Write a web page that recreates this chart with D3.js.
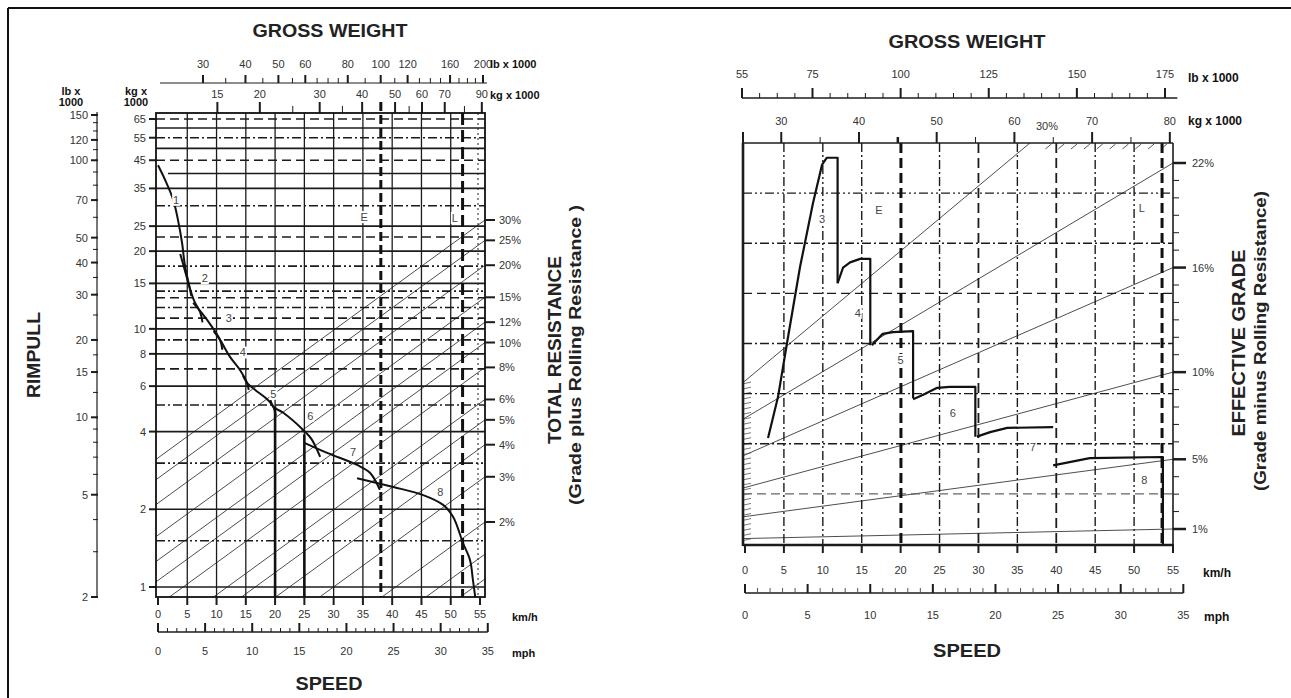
<!DOCTYPE html>
<meta charset="utf-8">
<style>
body { margin: 0; background: #fff; }
svg { display: block; font-family: "Liberation Sans", Arial, sans-serif; }
</style>
<body>
<svg id="chart" width="1291" height="698"></svg>
<script src="https://cdn.jsdelivr.net/npm/d3@7"></script>
<script>

// ---------------- left panel data (rimpull chart) ----------------
var lbWeightTicks = [30, 40, 50, 60, 80, 100, 120, 160, 200];
var lbWeightMinor = [35, 45, 55, 65, 70, 75, 90, 110, 130, 140, 150, 170, 180, 190];
var kgWeightTicks = [15, 20, 30, 40, 50, 60, 70, 90];
var kgWeightMinor = [25, 35, 55, 80];
var rimpullLbTicks = [150, 120, 100, 70, 50, 40, 30, 20, 15, 10, 5, 2];
var rimpullLbMinor = [140, 130, 110, 90, 80, 60, 45, 35, 25, 17.5, 12.5, 9, 8, 7, 6, 4, 3];
var rimpullKgTicks = [65, 55, 45, 35, 25, 20, 15, 10, 8, 6, 4, 2, 1];
var resistTicks = [30, 25, 20, 15, 12, 10, 8, 6, 5, 4, 3, 2];
var resistLines = [30, 25, 20, 15, 12, 10, 8, 6, 5, 4, 3, 2, 1.5, 1.2];
var solidLevels = [60, 50, 40, 35, 25, 20, 15, 10, 8, 6, 4, 2, 1];
var dashLevels = [65, 45, 22.7, 13.2, 11, 7];
var dashDotLevels = [55, 30, 12.1, 9.06, 5.07];
var dashDotDotLevels = [17.5, 14, 3.02, 1.51];
var kmhTicks = [0, 5, 10, 15, 20, 25, 30, 35, 40, 45, 50, 55];
var mphTicks = [0, 5, 10, 15, 20, 25, 30, 35];
var emptyKg = 45.4, loadedKg = 79;

// gear curves: [km/h, rimpull kg x 1000]
var leftGears = [
  [[0, 43], [1.2, 37.8], [2.6, 31.6], [3.4, 26.5], [4.1, 21.6], [4.6, 17.6], [5.3, 14.8], [5.7, 13.4]],
  [[3.8, 19.5], [4.6, 16.8], [5.2, 15], [6.2, 12.8], [7.2, 11.6], [7.6, 10.6]],
  [[6.0, 12.6], [7.5, 11.5], [9.2, 10.2], [10.6, 9.06], [11.0, 8.3]],
  [[9.5, 9.8], [10.6, 9.06], [12.3, 7.79], [14.0, 6.93], [15.2, 6.18], [15.5, 5.8]],
  [[14.5, 6.6], [15.2, 6.18], [16.6, 5.8], [18.6, 5.35], [19.7, 4.99], [20.1, 4.6]],
  [[19.2, 5.3], [19.7, 4.99], [21.4, 4.73], [24.8, 4.06], [26.2, 3.75], [27.7, 3.19]],
  [[25.1, 3.61], [29, 3.3], [34.0, 2.97], [36.2, 2.77], [37.9, 2.38]],
  [[34.0, 2.64], [40.2, 2.44], [45.3, 2.27], [48.7, 2.08], [50.4, 1.87], [52.1, 1.48], [53.3, 1.27], [53.8, 1.06], [54.2, 0.91]]
];
var leftGearNames = ["1", "2", "3", "4", "5", "6", "7", "8", "E", "L"];
var leftGearLabelAt = [[3.1, 31.6], [8.0, 15.7], [12.1, 11.0], [14.5, 8.1], [19.7, 5.6], [26.0, 4.6], [33.3, 3.33], [48.2, 2.33], [35.2, 27.1], [50.7, 26.9]];
var leftDrops = [[20, 5.0], [25, 3.9]];

// ---------------- right panel data (retarder chart) ----------------
var rLbTicks = [55, 75, 100, 125, 150, 175];
var rKgTicks = [30, 40, 50, 60, 70, 80];
var rKgMinor = [35, 45, 55, 65, 75];
var gradeTicks = [22, 16, 10, 5, 1];
var gradeAtRight = [30, 22, 16, 10, 5, 1];
var gradeAtLeft = [9.4, 7.3, 5.2, 3.35, 1.7, 0.45];
var rVertDashDot = [5, 15, 25, 35, 45];
var rVertDashDotDot = [10, 50];
var rVertDash = [30, 40];
var rowsDash = [1, 5];
var rowsDashDot = [2, 3, 4, 6];
var rowsDashDotDot = [7];

// gear curves: [km/h, effective grade %]
var rightGears = [
  [[2.96, 6.22], [4.24, 8.57], [5.4, 11.67], [7.07, 16.03], [8.74, 19.7], [9.9, 21.9], [10.5, 22.3], [11.9, 22.3], [11.9, 15.1]],
  [[11.9, 15.1], [12.6, 16.0], [13.5, 16.3], [14.8, 16.5], [16.1, 16.5], [16.1, 11.55]],
  [[16.3, 11.55], [17.7, 12.2], [19.0, 12.3], [21.6, 12.35], [21.6, 8.5]],
  [[21.6, 8.45], [22.9, 8.7], [24.7, 9.1], [26.3, 9.15], [29.6, 9.15], [29.6, 6.3]],
  [[29.8, 6.3], [31.5, 6.56], [33.7, 6.8], [39.6, 6.85]],
  [[39.6, 4.65], [44.3, 5.07], [53.7, 5.13], [53.7, 0.1]]
];
var rightGearNames = ["3", "4", "5", "6", "7", "8", "E", "L"];
var rightGearLabelAt = [[9.9, 18.8], [14.5, 13.4], [20.0, 10.7], [26.7, 7.65], [37.0, 5.7], [51.3, 3.8], [17.2, 19.3], [51.0, 19.4]];

// ---------------- helpers ----------------
var svg = d3.select("#chart");
var DASH = "9,5", DASHDOT = "9,3,2,3", DASHDOTDOT = "9,3,2,3,2,3";

function seg(g, x1, y1, x2, y2, w, dash, col) {
  return g.append("line")
    .attr("x1", x1).attr("y1", y1).attr("x2", x2).attr("y2", y2)
    .attr("stroke", col || "#1c1c1c")
    .attr("stroke-width", w || 1)
    .attr("stroke-dasharray", dash || null);
}
function txt(g, x, y, s, size, bold, anchor, fill) {
  return g.append("text")
    .attr("x", x).attr("y", y)
    .attr("font-size", size)
    .attr("font-weight", bold ? "bold" : null)
    .attr("text-anchor", anchor || "middle")
    .attr("fill", fill || "#333")
    .text(s);
}
function vtxt(g, x, y, s, size, len) {
  var t = g.append("text")
    .attr("transform", "translate(" + x + "," + y + ") rotate(-90)")
    .attr("font-size", size).attr("font-weight", "bold")
    .attr("text-anchor", "middle").attr("fill", "#222")
    .text(s);
  if (len) t.attr("textLength", len).attr("lengthAdjust", "spacingAndGlyphs");
  return t;
}
function gearLabel(g, x, y, n) {
  g.append("rect").attr("x", x - 4).attr("y", y - 6).attr("width", 8).attr("height", 12).attr("fill", "#fff");
  txt(g, x, y + 4, n, 11, false, "middle", "#444");
}

// outer frame
seg(svg, 8, 8, 1291, 8, 2, null, "#111");
seg(svg, 8, 8, 8, 698, 2, null, "#111");

// =================== LEFT PANEL ===================
var xL = d3.scaleLinear().domain([0, 55]).range([158, 480]);
var mphL = d3.scaleLinear().domain([0, 35]).range([158, xL(35 * 1.609344)]);
var kgL = d3.scaleLog().domain([1, 65]).range([587, 119]);
var lbL = d3.scaleLog().domain([2, 150]).range([597, 115]);
var pctL = d3.scaleLog().domain([2, 30]).range([522, 220]);
var wtL = d3.scaleLog().domain([30, 200]).range([203, 483]);
var kgWtL = function(kg) { return wtL(kg * 2.2046); };
var boxL = {x0: 156, x1: 485, y0: 113, y1: 597};

var defs = svg.append("defs");
defs.append("clipPath").attr("id", "clipL").append("rect")
  .attr("x", boxL.x0).attr("y", boxL.y0)
  .attr("width", boxL.x1 - boxL.x0).attr("height", boxL.y1 - boxL.y0);

var left = svg.append("g");

txt(left, 330, 37, "GROSS WEIGHT", 18, true, "middle", "#222").attr("textLength", 155).attr("lengthAdjust", "spacingAndGlyphs");
txt(left, 329, 690, "SPEED", 18, true, "middle", "#222").attr("textLength", 67).attr("lengthAdjust", "spacingAndGlyphs");

// top gross weight axes
seg(left, 160, 83, 487, 83, 1.2);
lbWeightMinor.forEach(function(v) { seg(left, wtL(v), 78, wtL(v), 83, 1); });
lbWeightTicks.forEach(function(v) {
  seg(left, wtL(v), 75, wtL(v), 83, 2);
  txt(left, wtL(v), 68, v, 11);
});
txt(left, 490, 68, "lb x 1000", 11, true, "start", "#111");
kgWeightMinor.forEach(function(v) { seg(left, kgWtL(v), 106, kgWtL(v), boxL.y0, 1); });
kgWeightTicks.forEach(function(v) {
  seg(left, kgWtL(v), 102, kgWtL(v), boxL.y0, 2);
  txt(left, kgWtL(v), 98, v, 11);
});
txt(left, 490, 99, "kg x 1000", 11, true, "start", "#111");

// left rimpull axes
txt(left, 71, 95, "lb x", 11, true, "middle", "#111");
txt(left, 71, 106, "1000", 11, true, "middle", "#111");
txt(left, 136, 95, "kg x", 11, true, "middle", "#111");
txt(left, 136, 106, "1000", 11, true, "middle", "#111");
seg(left, 97, 112, 97, 597, 1.2);
rimpullLbMinor.forEach(function(v) { seg(left, 93, lbL(v), 98, lbL(v), 1); });
rimpullLbTicks.forEach(function(v) {
  seg(left, 91, lbL(v), 98, lbL(v), 2);
  txt(left, 88, lbL(v) + 4, v, 11, false, "end");
});
rimpullKgTicks.forEach(function(v) {
  seg(left, 149, kgL(v), boxL.x0, kgL(v), 2);
  txt(left, 146, kgL(v) + 4, v, 11, false, "end");
});
vtxt(left, 40, 355, "RIMPULL", 18, 86);

// diagonal resistance lines
var diagL = left.append("g").attr("clip-path", "url(#clipL)");
var slopeDec = 0.0165;               // decades of rimpull per km/h
var sEdge = xL.invert(boxL.x1);
resistLines.forEach(function(p) {
  var kEnd = kgL.invert(pctL(p));
  var s0 = -5;
  var k0 = kEnd * Math.pow(10, -slopeDec * (sEdge - s0));
  seg(diagL, xL(s0), kgL(k0), xL(sEdge), kgL(kEnd), 0.9, null, "#3a3a3a");
});

// horizontal grid
solidLevels.forEach(function(k) {
  seg(left, k === 40 ? xL(1.7) : boxL.x0, kgL(k), boxL.x1, kgL(k), 1.6);
});
dashLevels.forEach(function(k) { seg(left, boxL.x0, kgL(k), boxL.x1, kgL(k), 1.6, DASH); });
dashDotLevels.forEach(function(k) { seg(left, boxL.x0, kgL(k), boxL.x1, kgL(k), 1.6, DASHDOT); });
dashDotDotLevels.forEach(function(k) { seg(left, boxL.x0, kgL(k), boxL.x1, kgL(k), 1.6, DASHDOTDOT); });

// vertical grid
kmhTicks.forEach(function(s) {
  if (s === 0) return;
  if (s === 55) seg(left, xL(s) - 2, boxL.y0, xL(s) - 2, boxL.y1, 1, "2,3");
  else seg(left, xL(s), boxL.y0, xL(s), boxL.y1, 1.3);
});

// empty / loaded weight lines
seg(left, kgWtL(emptyKg), 102, kgWtL(emptyKg), boxL.y1, 3, "9,4", "#111");
seg(left, kgWtL(loadedKg), boxL.y0, kgWtL(loadedKg), boxL.y1, 3, "12,5", "#111");

// box
left.append("rect").attr("x", boxL.x0).attr("y", boxL.y0)
  .attr("width", boxL.x1 - boxL.x0).attr("height", boxL.y1 - boxL.y0)
  .attr("fill", "none").attr("stroke", "#111").attr("stroke-width", 1.8);

// resistance axis on right
resistTicks.forEach(function(p) {
  seg(left, boxL.x1, pctL(p), boxL.x1 + 10, pctL(p), 2);
  txt(left, boxL.x1 + 14, pctL(p) + 4, p + "%", 11, false, "start");
});
vtxt(left, 561, 350, "TOTAL RESISTANCE", 18, 188);
vtxt(left, 581, 355, "(Grade plus Rolling Resistance )", 16, 300);

// speed axes
kmhTicks.forEach(function(s) {
  seg(left, xL(s), boxL.y1, xL(s), boxL.y1 + 8, 2);
  txt(left, xL(s), 618, s, 11);
});
txt(left, 512, 621, "km/h", 11, true, "start", "#111");
seg(left, mphL(0), 632, mphL(35), 632, 1.6);
d3.range(0, 36).forEach(function(m) {
  var maj = mphTicks.indexOf(m) >= 0;
  seg(left, mphL(m), maj ? 623 : 628, mphL(m), 632, maj ? 2 : 1);
});
mphTicks.forEach(function(m) { txt(left, mphL(m), 655, m, 11); });
txt(left, 512, 657, "mph", 11, true, "start", "#111");

// gear curves
var lineL = d3.line().x(function(d) { return xL(d[0]); }).y(function(d) { return kgL(d[1]); })
  .curve(d3.curveCatmullRom.alpha(0.5));
leftGears.forEach(function(g) {
  left.append("path").attr("d", lineL(g)).attr("fill", "none")
    .attr("stroke", "#111").attr("stroke-width", 2);
});
leftDrops.forEach(function(d) {
  seg(left, xL(d[0]), kgL(d[1]), xL(d[0]), boxL.y1, 2.6, null, "#111");
});
leftGearNames.forEach(function(n, i) {
  var p = leftGearLabelAt[i];
  gearLabel(left, xL(p[0]), kgL(p[1]), n);
});

// =================== RIGHT PANEL ===================
var xR = d3.scaleLinear().domain([0, 55]).range([745, 1173]);
var mphR = d3.scaleLinear().domain([0, 35]).range([745, xR(35 * 1.609344)]);
var gradeR = d3.scaleLinear().domain([1, 22]).range([529, 163]);
var lbR = d3.scaleLinear().domain([55, 175]).range([742, 1165]);
var kgR = function(kg) { return lbR(kg * 2.2046); };
var rowR = d3.scaleLinear().domain([0, 8]).range([544, 143]);
var boxR = {x0: 743, x1: 1173, y0: 143, y1: 544};

defs.append("clipPath").attr("id", "clipR").append("rect")
  .attr("x", boxR.x0).attr("y", boxR.y0)
  .attr("width", boxR.x1 - boxR.x0).attr("height", boxR.y1 - boxR.y0);

var right = svg.append("g");
txt(right, 967, 48, "GROSS WEIGHT", 18, true, "middle", "#222").attr("textLength", 157).attr("lengthAdjust", "spacingAndGlyphs");
txt(right, 967, 657, "SPEED", 18, true, "middle", "#222").attr("textLength", 68).attr("lengthAdjust", "spacingAndGlyphs");

// lb axis
seg(right, lbR(55), 98, lbR(178.5), 98, 1.6);
d3.range(55, 180, 5).forEach(function(v) {
  var maj = rLbTicks.indexOf(v) >= 0;
  seg(right, lbR(v), maj ? 88 : 93, lbR(v), 98, maj ? 2 : 1);
});
rLbTicks.forEach(function(v) { txt(right, lbR(v), 78, v, 11); });
txt(right, 1188, 82, "lb x 1000", 12, true, "start", "#111");

// kg axis on box top
rKgMinor.forEach(function(v) { seg(right, kgR(v), 137, kgR(v), boxR.y0, v === 45 ? 2.5 : 1); });
rKgTicks.forEach(function(v) {
  seg(right, kgR(v), 132, kgR(v), boxR.y0, 2);
  txt(right, kgR(v), 125, v, 11);
});
seg(right, boxR.x0, 132, boxR.x0, boxR.y0, 2);
txt(right, 1188, 125, "kg x 1000", 12, true, "start", "#111");
txt(right, 1047, 130, "30%", 11);

// grade diagonals
var diagR = right.append("g").attr("clip-path", "url(#clipR)");
gradeAtRight.forEach(function(g, i) {
  seg(diagR, boxR.x0, gradeR(gradeAtLeft[i]), boxR.x1, gradeR(g), 0.9, null, "#3a3a3a");
});

// hatch along top and left edge
d3.range(38.6, 54.5, 1.65).forEach(function(s) {
  seg(right, xR(s), boxR.y0 + 6, xR(s) + 6, boxR.y0 + 1, 0.9, null, "#444");
});
d3.range(0.35, 9.5, 0.29).forEach(function(g) {
  seg(right, boxR.x0 + 1, gradeR(g), boxR.x0 + 8, gradeR(g) - 1.5, 0.8, null, "#555");
});

// grid
rowsDash.forEach(function(r) { seg(right, boxR.x0, rowR(r), boxR.x1, rowR(r), 1.4, DASH, r === 1 ? "#666" : "#1c1c1c"); });
rowsDashDot.forEach(function(r) { seg(right, boxR.x0, rowR(r), boxR.x1, rowR(r), 1.4, DASHDOT); });
rowsDashDotDot.forEach(function(r) { seg(right, boxR.x0, rowR(r), boxR.x1, rowR(r), 1.4, DASHDOTDOT); });
rVertDashDot.forEach(function(s) { seg(right, xR(s), boxR.y0, xR(s), boxR.y1, 1.4, DASHDOT); });
rVertDashDotDot.forEach(function(s) { seg(right, xR(s), boxR.y0, xR(s), boxR.y1, 1.4, DASHDOTDOT); });
rVertDash.forEach(function(s) { seg(right, xR(s), boxR.y0, xR(s), boxR.y1, 1.8, "10,5"); });
seg(right, kgR(emptyKg), boxR.y0, kgR(emptyKg), boxR.y1, 3, "10,5", "#111");
seg(right, kgR(loadedKg), boxR.y0, kgR(loadedKg), boxR.y1, 3, "10,5", "#111");

// box
seg(right, boxR.x0, boxR.y0, boxR.x1, boxR.y0, 1.6);
seg(right, boxR.x1, boxR.y0, boxR.x1, boxR.y1, 1.6);
seg(right, boxR.x0, boxR.y0, boxR.x0, boxR.y1 + 2, 2.6);
seg(right, boxR.x0, boxR.y1 + 1, boxR.x1, boxR.y1 + 1, 2.6);

// grade axis on the right
d3.range(1, 23).forEach(function(g) { seg(right, boxR.x1, gradeR(g), boxR.x1 + 6, gradeR(g), 1); });
gradeTicks.forEach(function(g) {
  seg(right, boxR.x1, gradeR(g), boxR.x1 + 13, gradeR(g), 2.5);
  txt(right, 1192, gradeR(g) + 4, g + "%", 11, false, "start");
});
vtxt(right, 1245, 343, "EFFECTIVE GRADE", 18, 187);
vtxt(right, 1266, 341, "(Grade minus Rolling Resistance)", 17, 300);

// speed axes
kmhTicks.forEach(function(s) {
  seg(right, xR(s), boxR.y1, xR(s), boxR.y1 + 9, 2);
  txt(right, xR(s), 574, s, 11);
});
txt(right, 1203, 577, "km/h", 12, true, "start", "#111");
seg(right, mphR(0), 593, mphR(35), 593, 1.6);
d3.range(0, 36).forEach(function(m) {
  var maj = mphTicks.indexOf(m) >= 0;
  seg(right, mphR(m), maj ? 584 : 588, mphR(m), 593, maj ? 2 : 1, null, maj ? "#1c1c1c" : "#555");
});
mphTicks.forEach(function(m) { txt(right, mphR(m), 619, m, 11); });
txt(right, 1204, 621, "mph", 12, true, "start", "#111");

// gear curves
var lineR = d3.line().x(function(d) { return xR(d[0]); }).y(function(d) { return gradeR(d[1]); });
rightGears.forEach(function(g) {
  right.append("path").attr("d", lineR(g)).attr("fill", "none")
    .attr("stroke", "#111").attr("stroke-width", 2.2).attr("stroke-linejoin", "round");
});
rightGearNames.forEach(function(n, i) {
  var p = rightGearLabelAt[i];
  gearLabel(right, xR(p[0]), gradeR(p[1]), n);
});
</script>
</body>
